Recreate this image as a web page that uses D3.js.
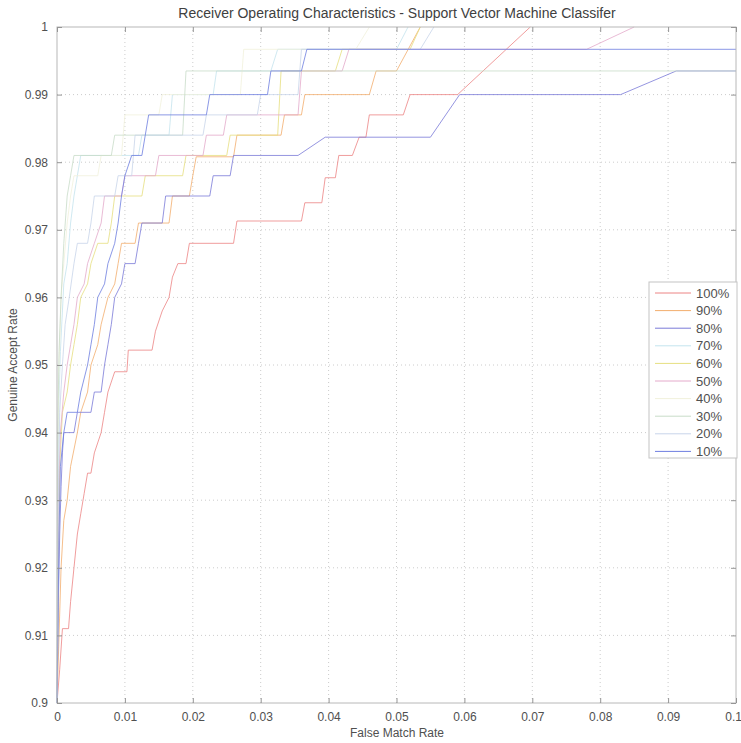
<!DOCTYPE html>
<html>
<head>
<meta charset="utf-8">
<script src="https://cdn.jsdelivr.net/npm/d3@7"></script>
<style>
  html, body { margin: 0; padding: 0; background: #fff; }
  svg { display: block; font-family: "Liberation Sans", Arial, sans-serif; }
</style>
</head>
<body>
<svg id="chart" width="741" height="743"></svg>
<script>
// ROC curves (False Match Rate, Genuine Accept Rate) for each training-set share
const seriesNames = ["100%", "90%", "80%", "70%", "60%", "50%", "40%", "30%", "20%", "10%"];
const seriesColors = ["#ec8484", "#f2ae6e", "#7a7ad8", "#c4e4ee", "#e6df80",
                      "#e4aacb", "#f1f1dc", "#c8dcc8", "#c8d4ea", "#6e7ee0"];

const roc100 = [[0,0.9],[0.0004,0.905],[0.0008,0.911],[0.0017,0.911],[0.002,0.915],[0.0025,0.92],[0.003,0.925],[0.0035,0.928],[0.004,0.931],[0.0045,0.934],[0.005,0.934],[0.0055,0.937],[0.0065,0.94],[0.007,0.943],[0.0075,0.946],[0.0085,0.949],[0.0103,0.949],[0.0105,0.9522],[0.014,0.9522],[0.0145,0.955],[0.0155,0.958],[0.0165,0.96],[0.017,0.963],[0.0178,0.965],[0.019,0.965],[0.0195,0.968],[0.026,0.968],[0.0265,0.9713],[0.036,0.9713],[0.0365,0.974],[0.039,0.974],[0.0395,0.9777],[0.041,0.9777],[0.0415,0.981],[0.0435,0.981],[0.0445,0.9837],[0.0455,0.9837],[0.046,0.987],[0.051,0.987],[0.052,0.99],[0.059,0.99],[0.0697,1.0]];
const roc90 = [[0,0.9],[0.0003,0.91],[0.0006,0.92],[0.001,0.927],[0.0015,0.93],[0.002,0.935],[0.003,0.94],[0.0035,0.943],[0.0045,0.946],[0.005,0.95],[0.006,0.953],[0.0065,0.956],[0.0075,0.96],[0.0085,0.962],[0.009,0.965],[0.0095,0.968],[0.0115,0.968],[0.012,0.971],[0.0165,0.971],[0.017,0.975],[0.0195,0.975],[0.02,0.978],[0.0205,0.9808],[0.026,0.9808],[0.0265,0.984],[0.033,0.984],[0.0335,0.987],[0.036,0.987],[0.0365,0.99],[0.046,0.99],[0.047,0.9935],[0.05,0.9935],[0.0535,1.0]];
const roc80 = [[0,0.9],[0.0002,0.915],[0.0004,0.925],[0.0006,0.932],[0.0008,0.937],[0.001,0.94],[0.0025,0.94],[0.003,0.943],[0.005,0.943],[0.0055,0.946],[0.0065,0.946],[0.007,0.95],[0.0075,0.953],[0.008,0.956],[0.0085,0.96],[0.0095,0.962],[0.01,0.965],[0.0115,0.965],[0.012,0.968],[0.0125,0.971],[0.0155,0.971],[0.016,0.975],[0.0225,0.975],[0.023,0.978],[0.0255,0.978],[0.026,0.981],[0.0355,0.981],[0.0395,0.9837],[0.055,0.9837],[0.0593,0.99],[0.083,0.99],[0.0912,0.9935],[0.1,0.9935]];
const roc70 = [[0,0.9],[0.0001,0.93],[0.0003,0.945],[0.0005,0.952],[0.0008,0.958],[0.001,0.962],[0.0015,0.965],[0.002,0.971],[0.0025,0.975],[0.003,0.978],[0.0035,0.981],[0.012,0.981],[0.0125,0.984],[0.0165,0.984],[0.017,0.99],[0.023,0.99],[0.0235,0.9935],[0.0315,0.9935],[0.0325,0.9967],[0.05,0.9967],[0.0517,1.0]];
const roc60 = [[0,0.9],[0.0002,0.92],[0.0004,0.935],[0.0008,0.943],[0.0015,0.946],[0.002,0.95],[0.0025,0.953],[0.003,0.956],[0.0035,0.96],[0.0045,0.962],[0.005,0.965],[0.006,0.968],[0.0075,0.968],[0.008,0.971],[0.0085,0.975],[0.0125,0.975],[0.013,0.978],[0.0185,0.978],[0.019,0.981],[0.025,0.981],[0.0255,0.984],[0.0325,0.984],[0.033,0.9935],[0.041,0.9935],[0.042,0.9967],[0.052,0.9967],[0.0535,1.0]];
const roc50 = [[0,0.9],[0.0002,0.93],[0.0005,0.94],[0.001,0.946],[0.0015,0.95],[0.002,0.953],[0.0025,0.956],[0.003,0.96],[0.004,0.962],[0.0045,0.965],[0.0055,0.968],[0.0065,0.971],[0.007,0.975],[0.0095,0.975],[0.01,0.978],[0.0145,0.978],[0.015,0.981],[0.0215,0.981],[0.022,0.984],[0.0245,0.984],[0.025,0.987],[0.0355,0.987],[0.036,0.9935],[0.042,0.9935],[0.043,0.9967],[0.078,0.9967],[0.085,1.0]];
const roc40 = [[0,0.9],[0.0001,0.935],[0.0003,0.95],[0.0006,0.96],[0.001,0.965],[0.0015,0.971],[0.002,0.975],[0.0025,0.978],[0.006,0.978],[0.0065,0.981],[0.0095,0.981],[0.01,0.987],[0.015,0.987],[0.0155,0.99],[0.027,0.99],[0.0275,0.9967],[0.044,0.9967],[0.046,1.0]];
const roc30 = [[0,0.9],[0.0001,0.94],[0.0003,0.952],[0.0006,0.96],[0.001,0.968],[0.0015,0.975],[0.002,0.978],[0.0025,0.981],[0.008,0.981],[0.0085,0.984],[0.0185,0.984],[0.019,0.9935],[0.1,0.9935]];
const roc20 = [[0,0.9],[0.0002,0.93],[0.0004,0.943],[0.0008,0.95],[0.0012,0.956],[0.0018,0.96],[0.0025,0.965],[0.003,0.968],[0.0045,0.968],[0.005,0.971],[0.0055,0.975],[0.0085,0.975],[0.009,0.978],[0.011,0.978],[0.0115,0.984],[0.0215,0.984],[0.022,0.987],[0.0295,0.987],[0.03,0.99],[0.0355,0.99],[0.036,0.9967],[0.0535,0.9967],[0.0555,1.0]];
const roc10 = [[0,0.9],[0.0003,0.925],[0.0005,0.935],[0.001,0.94],[0.0015,0.943],[0.003,0.943],[0.0035,0.946],[0.0045,0.95],[0.005,0.953],[0.0055,0.956],[0.006,0.96],[0.007,0.962],[0.0075,0.965],[0.0085,0.968],[0.009,0.971],[0.0095,0.975],[0.01,0.978],[0.011,0.981],[0.0125,0.981],[0.013,0.984],[0.0135,0.987],[0.022,0.987],[0.0225,0.99],[0.031,0.99],[0.0315,0.9935],[0.036,0.9935],[0.0368,0.9967],[0.1,0.9967]];

const seriesValues = [roc100, roc90, roc80, roc70, roc60, roc50, roc40, roc30, roc20, roc10];

const xTicks = [0, 0.01, 0.02, 0.03, 0.04, 0.05, 0.06, 0.07, 0.08, 0.09, 0.1];
const yTicks = [0.9, 0.91, 0.92, 0.93, 0.94, 0.95, 0.96, 0.97, 0.98, 0.99, 1];

const titleText = "Receiver Operating Characteristics - Support Vector Machine Classifer";
const xLabel = "False Match Rate";
const yLabel = "Genuine Accept Rate";

// ---- layout ----
const svg = d3.select("#chart");
const margin = { left: 57, right: 5, top: 27, bottom: 40 };
const W = 741, H = 743;
const x = d3.scaleLinear().domain([0, 0.1]).range([margin.left, W - margin.right]);
const y = d3.scaleLinear().domain([0.9, 1]).range([H - margin.bottom, margin.top]);

const textColor = "#505050";
const gridColor = "#cccccc";
const frameColor = "#b8b8b8";

// grid (dotted)
const grid = svg.append("g");
grid.selectAll(".gx").data(xTicks.slice(1, -1)).join("line")
  .attr("x1", d => x(d)).attr("x2", d => x(d))
  .attr("y1", y(0.9)).attr("y2", y(1))
  .attr("stroke", gridColor).attr("stroke-width", 1).attr("stroke-dasharray", "1,3");
grid.selectAll(".gy").data(yTicks.slice(1, -1)).join("line")
  .attr("y1", d => y(d)).attr("y2", d => y(d))
  .attr("x1", x(0)).attr("x2", x(0.1))
  .attr("stroke", gridColor).attr("stroke-width", 1).attr("stroke-dasharray", "1,3");

// curves
const line = d3.line().x(d => x(d[0])).y(d => y(d[1]));
svg.append("g").selectAll("path").data(seriesValues).join("path")
  .attr("d", line)
  .attr("fill", "none")
  .attr("stroke", (d, i) => seriesColors[i])
  .attr("stroke-width", 1)
  .attr("opacity", 0.8);

// frame
svg.append("rect")
  .attr("x", x(0)).attr("y", y(1))
  .attr("width", x(0.1) - x(0)).attr("height", y(0.9) - y(1))
  .attr("fill", "none").attr("stroke", frameColor).attr("stroke-width", 1);

// axes with inward ticks
const fmt = d3.format("~g");
const xAxisB = d3.axisBottom(x).tickValues(xTicks).tickSize(-5).tickPadding(9).tickFormat(fmt);
const xAxisT = d3.axisTop(x).tickValues(xTicks).tickSize(-5).tickFormat("");
const yAxisL = d3.axisLeft(y).tickValues(yTicks).tickSize(-5).tickPadding(9).tickFormat(fmt);
const yAxisR = d3.axisRight(y).tickValues(yTicks).tickSize(-5).tickFormat("");

function styleAxis(g) {
  g.select(".domain").remove();
  g.selectAll(".tick line").attr("stroke", "#959595");
  g.selectAll(".tick text").attr("fill", textColor).style("font-size", "12px")
    .style("font-family", "'Liberation Sans', Arial, sans-serif");
}
const xb = svg.append("g").attr("transform", `translate(0,${y(0.9)})`).call(xAxisB).call(styleAxis);
// keep the last x tick label inside the page
xb.selectAll(".tick text").filter(d => d === 0.1).attr("text-anchor", "end").attr("dx", "0.45em");
svg.append("g").attr("transform", `translate(0,${y(1)})`).call(xAxisT).call(styleAxis);
svg.append("g").attr("transform", `translate(${x(0)},0)`).call(yAxisL).call(styleAxis);
svg.append("g").attr("transform", `translate(${x(0.1)},0)`).call(yAxisR).call(styleAxis);

// titles
svg.append("text").attr("x", 397).attr("y", 18).attr("text-anchor", "middle")
  .attr("fill", "#404040").style("font-size", "14px").text(titleText);
svg.append("text").attr("x", 397).attr("y", 737).attr("text-anchor", "middle")
  .attr("fill", textColor).style("font-size", "12px").text(xLabel);
svg.append("text").attr("transform", `translate(17,${(y(0.9) + y(1)) / 2}) rotate(-90)`)
  .attr("text-anchor", "middle").attr("fill", textColor).style("font-size", "12px").text(yLabel);

// legend
const lg = svg.append("g").attr("transform", "translate(649,282)");
lg.append("rect").attr("width", 88).attr("height", 176)
  .attr("fill", "#fff").attr("stroke", "#c4c4c4").attr("stroke-width", 1);
const rows = lg.selectAll(".row").data(seriesNames).join("g")
  .attr("transform", (d, i) => `translate(0,${11 + i * 17.6})`);
rows.append("line").attr("x1", 6).attr("x2", 42)
  .attr("stroke", (d, i) => seriesColors[i]).attr("stroke-width", 1);
rows.append("text").attr("x", 47).attr("dy", "0.35em")
  .attr("fill", textColor).style("font-size", "13px").text(d => d);
</script>
</body>
</html>
